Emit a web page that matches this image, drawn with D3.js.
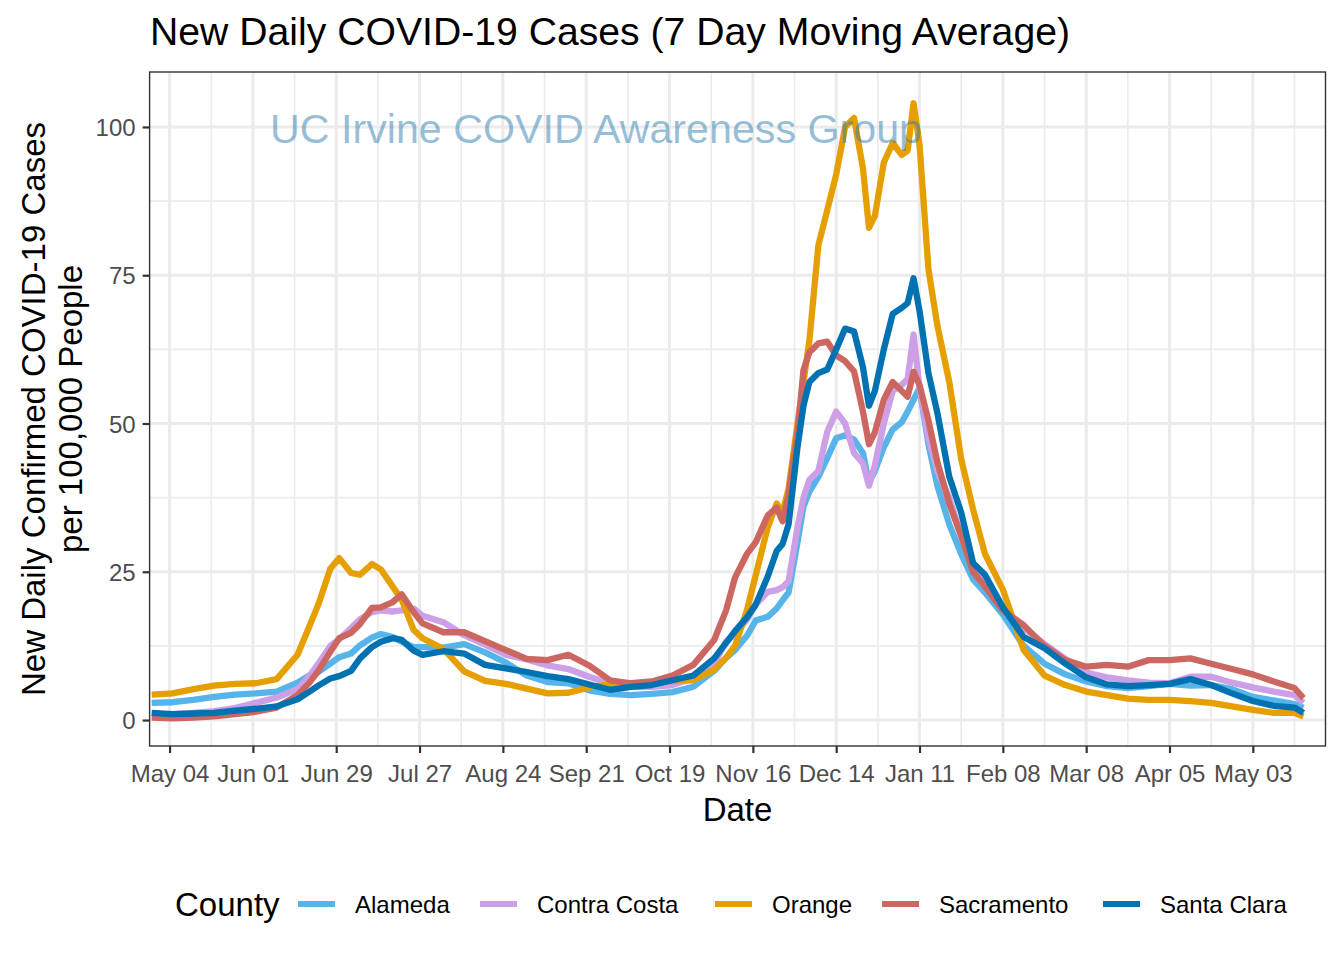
<!DOCTYPE html>
<html>
<head>
<meta charset="utf-8">
<script src="https://cdn.jsdelivr.net/npm/d3@7"></script>
<style>
  html, body { margin: 0; padding: 0; background: #ffffff; }
  svg { display: block; }
  text { font-family: "Liberation Sans", Arial, Helvetica, sans-serif; }
</style>
</head>
<body>
<svg id="chart" width="1344" height="960"></svg>
<script>
// ---------------- DATA ----------------
const dates = [
  "2020-04-28","2020-05-05","2020-05-12","2020-05-19","2020-05-26","2020-06-02","2020-06-09","2020-06-16",
  "2020-06-20","2020-06-23","2020-06-27","2020-06-30","2020-07-04","2020-07-07","2020-07-11","2020-07-14","2020-07-18","2020-07-21","2020-07-25","2020-07-28",
  "2020-08-04","2020-08-11","2020-08-18","2020-08-25","2020-09-01","2020-09-08","2020-09-15","2020-09-22","2020-09-29","2020-10-06","2020-10-13","2020-10-20","2020-10-27",
  "2020-11-03","2020-11-07","2020-11-10","2020-11-14","2020-11-17","2020-11-21","2020-11-24","2020-11-26",
  "2020-11-28","2020-12-01","2020-12-03","2020-12-05","2020-12-08","2020-12-11","2020-12-14","2020-12-17","2020-12-20","2020-12-23","2020-12-25",
  "2020-12-27","2020-12-30","2021-01-02","2021-01-05","2021-01-07","2021-01-09","2021-01-11","2021-01-14","2021-01-17","2021-01-21","2021-01-25",
  "2021-01-29","2021-02-02","2021-02-08","2021-02-15","2021-02-22","2021-03-01",
  "2021-03-08","2021-03-15","2021-03-22","2021-03-29","2021-04-05","2021-04-12","2021-04-19","2021-04-26","2021-05-03","2021-05-10","2021-05-17","2021-05-20"
];

const alameda = [
  2.9,3.0,3.4,3.9,4.3,4.5,4.8,6.3,
  7.5,8.1,9.5,10.6,11.2,12.6,13.9,14.5,14.0,13.2,12.3,12.3,
  12.2,12.8,11.4,9.7,7.5,6.4,6.2,5.0,4.4,4.2,4.4,4.7,5.6,
  8.3,10.5,11.8,14.2,16.8,17.4,18.8,20.2,
  21.5,30,36,38.5,41,44.2,47.5,48,47.3,45,40,
  42,46,49,50.2,52,54,56,46.5,39.5,33,28,
  23.7,21.5,17.8,12.5,9.5,7.7,
  6.5,5.7,5.4,5.7,6.1,5.8,5.9,5.2,3.9,3.3,2.7,2.1
];

const contraCosta = [
  1.0,1.0,1.2,1.5,2.0,2.9,3.8,5.2,
  7.4,9.5,12.5,13.6,15.5,17.0,18.2,18.5,18.3,18.5,18.8,17.6,
  16.5,14.3,12.7,11.0,10.2,9.2,8.6,7.3,6.1,5.6,5.6,5.9,7.1,
  9.5,13.2,14.5,16.9,19.5,21.6,21.9,22.4,
  23.4,32.5,37.5,40.5,42,48.6,52,50,45,43.3,39.5,
  43,50,55.5,56.5,57.5,65,56,47.5,42,37.5,31,
  26,23,18.5,15.5,12.8,10.3,
  8.0,7.2,6.7,6.3,6.2,7.3,7.3,6.3,5.5,4.8,4.2,2.9
];

const orange = [
  4.3,4.5,5.2,5.8,6.1,6.2,6.9,11,
  15.8,19.5,25.5,27.3,24.8,24.5,26.3,25.4,22.5,20.3,15.2,13.8,
  12,8.2,6.6,6.1,5.3,4.5,4.6,5.5,6.0,6.2,6.2,6.6,6.7,
  8.5,10.5,12.5,18.5,24.5,32.5,36.5,35.0,
  39,50,57,64,80,86,92,100,101.5,93,83,
  85,94,97.3,95.3,96,104,97,76,66.5,57,44,
  35.5,28,22,11.8,7.5,5.9,
  4.8,4.2,3.6,3.4,3.4,3.2,2.9,2.3,1.7,1.2,1.2,0.6
];

const sacramento = [
  0.4,0.3,0.4,0.6,1.0,1.4,2.1,4.2,
  6.3,8.3,11.5,13.8,14.7,16.2,18.9,19.0,19.9,21.2,18.2,16.3,
  14.8,14.8,13.3,11.8,10.3,10.1,11.0,9.2,6.7,6.2,6.5,7.5,9.3,
  13.5,18.5,24,28,30,34.5,35.8,33.5,
  38,48.4,59,62,63.5,63.8,61.5,60.5,58.8,52,46.5,
  48.5,54,57,55.5,54.5,58.7,56.5,50.5,43.5,36.5,31,
  25,22.5,18.5,16,12.5,10.1,
  9.0,9.3,9.0,10.1,10.1,10.4,9.5,8.6,7.7,6.5,5.4,3.7
];

const santaClara = [
  1.2,1.0,1.1,1.2,1.6,1.9,2.3,3.5,
  4.8,5.8,7.0,7.4,8.3,10.4,12.3,13.2,13.8,13.5,11.7,11.0,
  11.6,11.2,9.3,8.7,8.1,7.4,6.9,6.0,5.1,5.6,5.9,6.7,7.5,
  10.4,13.0,15,17.3,19.5,24.2,28.5,29.7,
  33,46,53,57,58.5,59.1,62.5,66,65.5,59.5,53,
  55.5,62.5,68.5,69.5,70.3,74.5,69,58.5,51.8,41,35,
  26.5,24.5,19,14,12.1,9.5,
  7.2,6.0,5.7,5.9,6.1,6.9,5.9,4.5,3.2,2.4,2.1,1.2
];

const counties = ["Alameda", "Contra Costa", "Orange", "Sacramento", "Santa Clara"];
const seriesValues = [alameda, contraCosta, orange, sacramento, santaClara];
const countyColors = ["#56B4E9", "#CC9FE6", "#E69F00", "#CC6660", "#0072B2"];

const xTickDates = ["2020-05-04","2020-06-01","2020-06-29","2020-07-27","2020-08-24","2020-09-21","2020-10-19",
                    "2020-11-16","2020-12-14","2021-01-11","2021-02-08","2021-03-08","2021-04-05","2021-05-03"];
const xMinorDates = ["2020-05-18","2020-06-15","2020-07-13","2020-08-10","2020-09-07","2020-10-05","2020-11-02",
                     "2020-11-30","2020-12-28","2021-01-25","2021-02-22","2021-03-22","2021-04-19","2021-05-17"];
const yTicks = [0, 25, 50, 75, 100];
const yMinor = [12.5, 37.5, 62.5, 87.5];
const xDomain = ["2020-04-27T07:00:00Z", "2021-05-27T10:00:00Z"];
const yDomain = [-4.38, 109.27];

const titleText = "New Daily COVID-19 Cases (7 Day Moving Average)";
const watermark = "UC Irvine COVID Awareness Group";
const xTitle = "Date";
const yTitleLines = ["New Daily Confirmed COVID-19 Cases", "per 100,000 People"];
const legendTitle = "County";

// ---------------- CHART ----------------
const parse = s => new Date(s + (s.length === 10 ? "T00:00:00Z" : ""));
const fmt = d3.utcFormat("%b %d");

const panel = { left: 149.6, right: 1325.5, top: 72, bottom: 746 };
const svg = d3.select("#chart");

const x = d3.scaleUtc().domain(xDomain.map(s => new Date(s))).range([panel.left, panel.right]);
const y = d3.scaleLinear().domain(yDomain).range([panel.bottom, panel.top]);

svg.append("rect").attr("x", panel.left).attr("y", panel.top)
  .attr("width", panel.right - panel.left).attr("height", panel.bottom - panel.top)
  .attr("fill", "#ffffff");

const grid = svg.append("g");
grid.selectAll(".vminor").data(xMinorDates.map(parse)).join("line")
  .attr("x1", d => x(d)).attr("x2", d => x(d)).attr("y1", panel.top).attr("y2", panel.bottom)
  .attr("stroke", "#EBEBEB").attr("stroke-width", 1.6);
grid.selectAll(".hminor").data(yMinor).join("line")
  .attr("x1", panel.left).attr("x2", panel.right).attr("y1", d => y(d)).attr("y2", d => y(d))
  .attr("stroke", "#EBEBEB").attr("stroke-width", 1.6);
grid.selectAll(".vmajor").data(xTickDates.map(parse)).join("line")
  .attr("x1", d => x(d)).attr("x2", d => x(d)).attr("y1", panel.top).attr("y2", panel.bottom)
  .attr("stroke", "#EBEBEB").attr("stroke-width", 3);
grid.selectAll(".hmajor").data(yTicks).join("line")
  .attr("x1", panel.left).attr("x2", panel.right).attr("y1", d => y(d)).attr("y2", d => y(d))
  .attr("stroke", "#EBEBEB").attr("stroke-width", 3);

svg.append("clipPath").attr("id", "clip").append("rect")
  .attr("x", panel.left).attr("y", panel.top)
  .attr("width", panel.right - panel.left).attr("height", panel.bottom - panel.top);

const line = d3.line().x(d => x(d.date)).y(d => y(d.value));
const gLines = svg.append("g").attr("clip-path", "url(#clip)");
counties.forEach((c, i) => {
  const data = dates.map((d, j) => ({ date: parse(d), value: seriesValues[i][j] }));
  gLines.append("path").datum(data)
    .attr("d", line)
    .attr("fill", "none")
    .attr("stroke", countyColors[i])
    .attr("stroke-width", 6.3)
    .attr("stroke-linejoin", "round")
    .attr("stroke-linecap", "butt");
});

svg.append("text").attr("x", 270).attr("y", 143)
  .attr("font-size", 41).attr("fill", "#2f7db0").attr("fill-opacity", 0.5)
  .attr("textLength", 652).attr("lengthAdjust", "spacingAndGlyphs")
  .text(watermark);

svg.append("rect").attr("x", panel.left).attr("y", panel.top)
  .attr("width", panel.right - panel.left).attr("height", panel.bottom - panel.top)
  .attr("fill", "none").attr("stroke", "#333333").attr("stroke-width", 1.4);

const xAxis = d3.axisBottom(x).tickValues(xTickDates.map(parse)).tickFormat(fmt).tickSize(7).tickPadding(6);
const gx = svg.append("g").attr("transform", `translate(0,${panel.bottom})`).call(xAxis);
gx.select(".domain").remove();
gx.selectAll(".tick line").attr("stroke", "#333333").attr("stroke-width", 2.2);
gx.selectAll(".tick text").attr("font-size", 24).attr("fill", "#4D4D4D")
  .attr("font-family", "Liberation Sans, Arial, sans-serif").attr("dy", null).attr("y", 36);

const yAxis = d3.axisLeft(y).tickValues(yTicks).tickSize(7).tickPadding(7);
const gy = svg.append("g").attr("transform", `translate(${panel.left},0)`).call(yAxis);
gy.select(".domain").remove();
gy.selectAll(".tick line").attr("stroke", "#333333").attr("stroke-width", 2.2);
gy.selectAll(".tick text").attr("font-size", 24).attr("fill", "#4D4D4D")
  .attr("font-family", "Liberation Sans, Arial, sans-serif").attr("dy", "0.36em").attr("x", -14);

svg.append("text").attr("x", 150).attr("y", 45).attr("font-size", 39).attr("fill", "#000")
  .attr("textLength", 920).attr("lengthAdjust", "spacingAndGlyphs").text(titleText);

svg.append("text").attr("x", (panel.left + panel.right) / 2).attr("y", 821)
  .attr("text-anchor", "middle").attr("font-size", 33).attr("fill", "#000").text(xTitle);

const cy = (panel.top + panel.bottom) / 2;
[45, 82].forEach((bx, i) => {
  svg.append("text").attr("transform", `translate(${bx},${cy}) rotate(-90)`)
    .attr("text-anchor", "middle").attr("font-size", 33).attr("fill", "#000").text(yTitleLines[i]);
});

// legend (item positions match the reference layout)
const legendKeyX = [298, 480, 715, 882, 1103];
const lg = svg.append("g");
lg.append("text").attr("x", 175).attr("y", 916).attr("font-size", 33).attr("fill", "#000").text(legendTitle);
counties.forEach((c, i) => {
  const kx = legendKeyX[i];
  lg.append("line").attr("x1", kx).attr("x2", kx + 37).attr("y1", 904).attr("y2", 904)
    .attr("stroke", countyColors[i]).attr("stroke-width", 6);
  lg.append("text").attr("x", kx + 57).attr("y", 913).attr("font-size", 24).attr("fill", "#000").text(c);
});
</script>
</body>
</html>
